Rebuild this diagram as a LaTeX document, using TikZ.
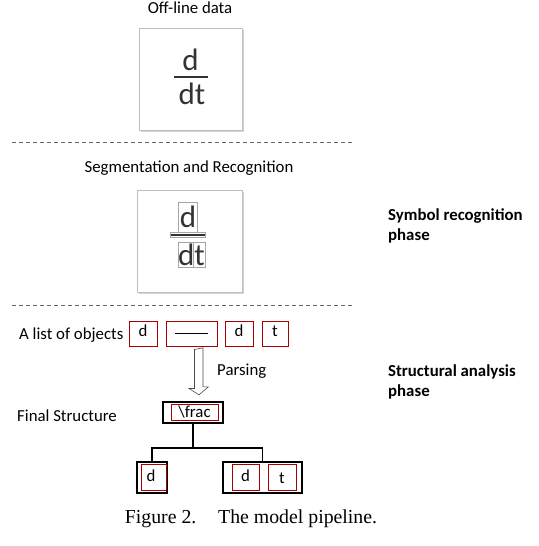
\documentclass[tikz,border=0pt]{standalone}
\usepackage{fontspec}
\setmainfont{Carlito}
\newfontfamily\capfont{Liberation Serif}
\usetikzlibrary{shadows}
\usetikzlibrary{calc}

\tikzset{
  lbl/.style={font=\fontsize{16.8}{19}\selectfont, inner sep=0pt},
  phase/.style={font=\fontsize{16.8}{20}\selectfont\bfseries, align=left, anchor=north west, inner sep=0pt},
  objbox/.style={draw=red!65!black, line width=1pt, inner sep=0pt, font=\fontsize{16.8}{19}\selectfont},
  treebox/.style={draw=black, line width=2.4pt, inner sep=0pt},
  photo/.style={draw=black!25, fill=white, line width=0.6pt, drop shadow={shadow xshift=1.5pt, shadow yshift=-1.5pt, opacity=0.35}},
  hand/.style={text=black!80, inner sep=0pt, font=\fontsize{31}{31}\selectfont},
  segbox/.style={draw=black!35, line width=0.5pt, inner sep=0pt},
  sep/.style={draw=black!60, line width=0.8pt, dash pattern=on 4pt off 3pt}
}

\begin{document}
\begin{tikzpicture}[x=1pt, y=-1pt]
        \useasboundingbox (0,0) rectangle (538,546);
        % off-line data
        \node[lbl] (offline) at (190,8) {Off-line data};
        \node[photo, minimum width=103pt, minimum height=102pt] (img1) at (190.5,79) {};
        \node[hand] (num1) at (190.5,60) {d};
        \draw[black!80, line width=1.4pt] (174,77) -- (208,77);
        \node[hand] (den1) at (192,94) {dt};
        \draw[sep] (12,142) -- (355,142);
        % segmentation
        \node[lbl] (segment) at (189,168) {Segmentation and Recognition};
        \node[photo, minimum width=105pt, minimum height=102pt] (img2) at (190,241) {};
        \node[segbox, minimum width=19pt, minimum height=30pt] (segd) at (187.5,217) {};
        \node[hand] at (188,217) {d};
        \draw[black!80, line width=1.4pt] (170,235) -- (205,235);
        \draw[segbox] (170,232.5) rectangle (205,237);
        \node[segbox, minimum width=15pt, minimum height=25pt] (segdd) at (185.5,254.5) {};
        \node[segbox, minimum width=12pt, minimum height=25pt] (segt) at (199,254.5) {};
        \node[hand] at (191.5,255) {dt};
        \draw[sep] (12,305) -- (355,305);
        % phases
        \node[phase] (symphase) at (388,208) {Symbol recognition\\phase};
        \node[phase] (strphase) at (388,365) {Structural analysis\\phase};
        % list of objects
        \node[lbl, anchor=west] (objects) at (19,335) {A list of objects};
        \foreach \name/\x/\w/\txt in {objd/143/28/d, objline/191.5/51/{}, objdd/239/28/d, objt/275/26/t} {
            \node[objbox, minimum width=\w pt, minimum height=25pt] (\name) at (\x,333.5) {};
            \node[lbl] at (\x,331) {\txt};
        }
        \draw[line width=1.8pt] (175,333.5) -- (208,333.5);
        % parsing arrow
        \node[treebox, minimum width=60pt, minimum height=21pt] (frac) at (193,412.5) {};
        \coordinate (arrtop) at ($(objline.south)+(7,3)$);
        \coordinate (arrtip) at ($(frac.north)+(6,-6)$);
        \draw[black!70, fill=white, line width=0.6pt] (arrtop) ++(-4,0) -- ++(0,39) -- ++(-5.5,0)
            -- (arrtip) -- ++(9.5,-8) -- ++(-5.5,0) -- ++(0,-39) -- cycle;
        \node[lbl, anchor=west] (parsing) at (217,371) {Parsing};
        % final structure
        \node[lbl, anchor=west] (final) at (17,416) {Final Structure};
        \node[objbox, minimum width=47pt, minimum height=16pt] (fracin) at (194.5,412.5) {\textbackslash frac};
        \node[treebox, minimum width=30pt, minimum height=31pt] (leftd) at (152,477.5) {};
        \node[objbox, minimum width=25pt, minimum height=26pt] (leftin) at (154,477) {};
        \node[lbl] at (151,476) {d};
        \node[treebox, minimum width=79pt, minimum height=31pt] (rightdt) at (262.5,477.5) {};
        \node[objbox, minimum width=27pt, minimum height=26pt] (rightd) at (245.5,477) {};
        \node[lbl] at (245.5,476) {d};
        \node[objbox, minimum width=28pt, minimum height=26pt] (rightt) at (282,477) {};
        \node[lbl] at (282,478) {t};
        \draw[line width=1.6pt] (frac.south) -- ++(0,24) coordinate (fork);
        \draw[line width=1.6pt] (fork) -| (leftd.north);
        \draw[line width=1.6pt] (fork) -| (rightdt.north);
        % caption
        \node[inner sep=0pt, font=\capfont\fontsize{19.8}{22}\selectfont] (caption) at (251,519) {Figure 2.\hspace{1.1em}The model pipeline.};
    \end{tikzpicture}
\end{document}
